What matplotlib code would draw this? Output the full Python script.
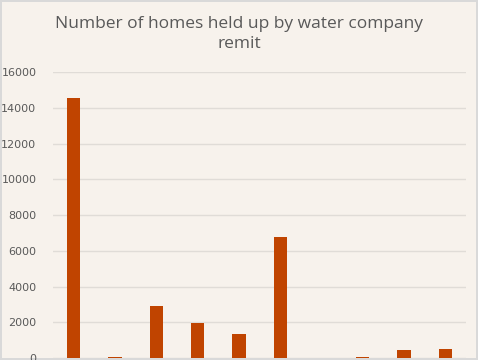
import numpy as np
import matplotlib.pyplot as plt

# remit categories (labels are cut off below the visible area of the chart)
companies = ["A", "B", "C", "D", "E", "F", "G", "H", "I", "J"]
homes = [14550, 60, 2910, 1940, 1330, 6780, 20, 80, 460, 520]
yticks = [0, 2000, 4000, 6000, 8000, 10000, 12000, 14000, 16000]

bg = "#f7f2ec"
bar_col = "#c04400"
txt = "#595959"

fig = plt.figure(figsize=(4.78, 3.6), dpi=100)
fig.patch.set_facecolor(bg)
fig.patch.set_edgecolor("#d9d9d9")
fig.patch.set_linewidth(1.5)

ax = fig.add_axes([0.111, 0.0056, 0.864, 0.794])
ax.set_facecolor(bg)
x = np.arange(len(companies))
ax.bar(x, homes, width=0.32, color=bar_col, zorder=3)

ax.set_xlim(-0.5, len(companies) - 0.5)
ax.set_ylim(0, 16000)
ax.set_yticks(yticks)
ax.set_yticklabels([str(t) for t in yticks])
ax.set_xticks(x)
ax.tick_params(axis="x", labelbottom=False, length=0)
ax.tick_params(axis="y", length=0, labelsize=8, labelcolor=txt, pad=12)
ax.grid(axis="y", color="#e0dcd7", linewidth=1, zorder=0)
for s in ax.spines.values():
    s.set_visible(False)

fig.text(0.5, 0.905, "Number of homes held up by water company\nremit",
         ha="center", va="center", fontsize=12.5, color=txt,
         family="Open Sans", linespacing=1.3)

fig.savefig("out.png", dpi=100, facecolor=bg, edgecolor=fig.get_edgecolor())
